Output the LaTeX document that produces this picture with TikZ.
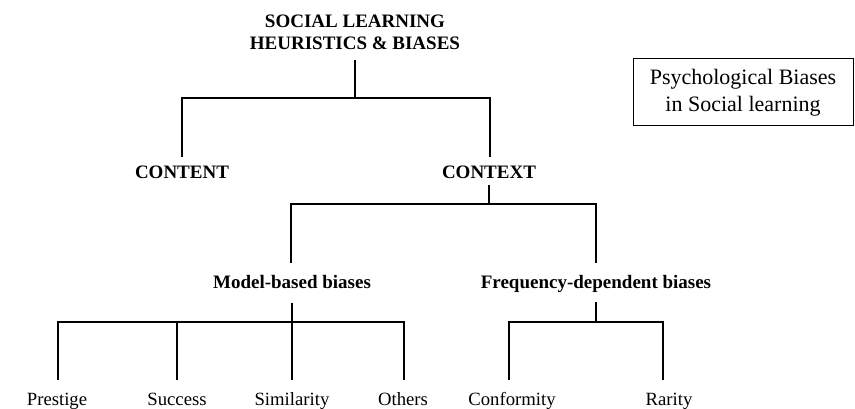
\documentclass[tikz,border=0pt]{standalone}
\usepackage{fontspec}
\setmainfont{Liberation Serif}
\begin{document}
\begin{tikzpicture}[x=1pt,y=-1pt,line width=1.2pt,line join=miter,
  hdr/.style={font=\fontsize{19}{22}\selectfont\bfseries,inner sep=0pt,anchor=base},
  leaf/.style={font=\fontsize{18.7}{22}\selectfont,inner sep=0pt,anchor=base},
  legendbox/.style={draw,line width=1pt,minimum width=220pt,minimum height=67pt,inner sep=0pt,align=center,font=\fontsize{22}{27}\selectfont}]
\fill[white] (0,0) rectangle (855,409);
\useasboundingbox (0,0) rectangle (855,409);
% nodes
\node[hdr,align=center,anchor=base] (root) at (355,50) {SOCIAL LEARNING\\HEURISTICS \& BIASES};
\node[hdr] (content) at (182,179) {CONTENT};
\node[hdr] (context) at (489,179) {CONTEXT};
\node[hdr] (model) at (292,288) {Model-based biases};
\node[hdr] (freq) at (596,288) {Frequency-dependent biases};
\node[leaf] (prestige) at (57,405) {Prestige};
\node[leaf] (success) at (177,405) {Success};
\node[leaf] (similarity) at (292,405) {Similarity};
\node[leaf] (others) at (403,405) {Others};
\node[leaf] (conformity) at (512,405) {Conformity};
\node[leaf] (rarity) at (669,405) {Rarity};
\node[legendbox] (psy) at (743,92.5) {Psychological Biases\\in Social learning};
% junction coordinates
\coordinate (rootB) at (355,60);
\coordinate (rootJ) at (355,98);
\coordinate (contentT) at (182,157);
\coordinate (contextT) at (490,157);
\coordinate (contextB) at (489,185);
\coordinate (contextJ) at (489,204);
\coordinate (modelT) at (291,263);
\coordinate (freqT) at (596,263);
\coordinate (modelB) at (292,303);
\coordinate (modelJ) at (292,322);
\coordinate (prestigeT) at (58,380);
\coordinate (successT) at (177,380);
\coordinate (similarityT) at (292,380);
\coordinate (othersT) at (404,380);
\coordinate (freqB) at (596,302);
\coordinate (freqJ) at (596,322);
\coordinate (conformityT) at (509,380);
\coordinate (rarityT) at (663,380);
% connectors
\draw (rootB) -- (rootJ);
\draw (contentT) |- (rootJ) -| (contextT);
\draw (contextB) -- (contextJ);
\draw (modelT) |- (contextJ) -| (freqT);
\draw (modelB) -- (similarityT);
\draw (prestigeT) |- (modelJ) -| (othersT);
\draw (successT) -- (successT |- modelJ);
\draw (freqB) -- (freqJ);
\draw (conformityT) |- (freqJ) -| (rarityT);
\end{tikzpicture}
\end{document}
